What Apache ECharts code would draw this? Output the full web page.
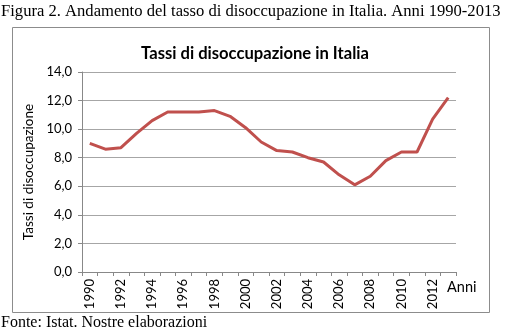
<!DOCTYPE html>
<html><head><meta charset="utf-8">
<script src="https://cdn.jsdelivr.net/npm/echarts@6/dist/echarts.min.js"></script>
<style>html,body{margin:0;padding:0;background:#fff}#c{width:510px;height:334px}</style>
</head><body><div id="c"></div>
<script>
const years = ['1990','1991','1992','1993','1994','1995','1996','1997','1998','1999','2000','2001','2002','2003','2004','2005','2006','2007','2008','2009','2010','2011','2012','2013'];
const tassi = [9.0, 8.6, 8.7, 9.7, 10.6, 11.2, 11.2, 11.2, 11.3, 10.9, 10.1, 9.1, 8.5, 8.4, 8.0, 7.7, 6.8, 6.1, 6.7, 7.8, 8.4, 8.4, 10.7, 12.2];
const yTicks = [0, 2, 4, 6, 8, 10, 12, 14];

const chart = echarts.init(document.getElementById('c'), null, {renderer:'canvas'});
const sans = 'Lato';
chart.setOption({
  animation: false,
  backgroundColor: '#fff',
  title: {
    text: 'Tassi di disoccupazione in Italia',
    left: 'center', top: 40,
    textStyle: {fontFamily: sans, fontWeight: 'bold', fontSize: 16.6, color: '#000'}
  },
  graphic: [
    {type:'text', left: 1, top: 3, style:{text:'Figura 2. Andamento del tasso di disoccupazione in Italia. Anni 1990-2013', font:'16.6px "Liberation Serif"', fill:'#000'}},
    {type:'text', left: 1, top: 315, style:{text:'Fonte: Istat. Nostre elaborazioni', font:'16px "Liberation Serif"', fill:'#000'}},
    {type:'rect', shape:{x:12.5, y:27.5, width:477, height:285}, style:{fill:'none', stroke:'#8c8c8c', lineWidth:1}, z:-1},
    {type:'text', left: 447, top: 280, style:{text:'Anni', font:'14.5px Lato', fill:'#000'}}
  ],
  grid: {left: 82, right: 54, top: 72, bottom: 62},
  xAxis: {
    type: 'category', data: years, boundaryGap: true,
    axisLine: {lineStyle: {color: '#888', width: 1}},
    axisTick: {show: true, interval: 0, length: 4, lineStyle: {color: '#888'}},
    axisLabel: {interval: 1, rotate: 90, fontFamily: sans, fontSize: 13, color: '#000', margin: 7}
  },
  yAxis: {
    type: 'value', min: yTicks[0], max: yTicks[yTicks.length-1], interval: 2,
    name: 'Tassi di disoccupazione', nameLocation: 'middle', nameGap: 46,
    nameTextStyle: {fontFamily: sans, fontSize: 13.5, color: '#000'},
    axisLine: {show: true, lineStyle: {color: '#888'}},
    axisTick: {show: true, length: 4, lineStyle: {color: '#888'}},
    splitLine: {lineStyle: {color: '#a6a6a6', width: 1}},
    axisLabel: {fontFamily: sans, fontSize: 13, color: '#000', margin: 10,
      formatter: v => v.toFixed(1).replace('.', ',')}
  },
  series: [{
    type: 'line', data: tassi, symbol: 'none',
    lineStyle: {color: '#C0504D', width: 3}
  }]
});
</script></body></html>
